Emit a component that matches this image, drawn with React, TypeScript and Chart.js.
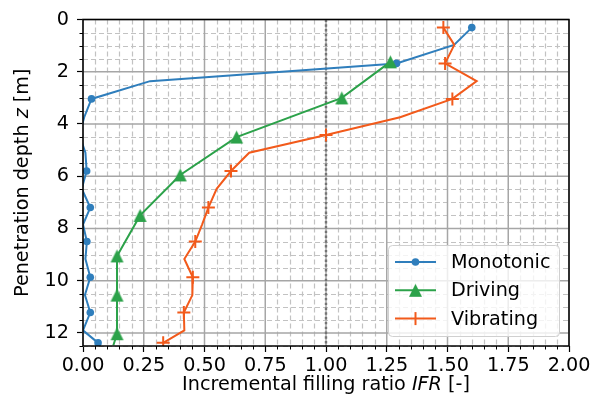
import React, { useEffect, useRef } from 'react';
import { Chart, registerables } from 'chart.js';

Chart.register(...registerables);

// ---- data ----
const depthMV = [0.31, 0.97, 1.68, 2.36, 3.04, 3.74, 4.42, 5.1, 5.8, 6.48, 7.2, 7.85, 8.5, 9.17, 9.87, 10.55, 11.22, 11.9, 12.38];
const monotonicIFR = [1.6, 1.527, 1.29, 0.276, 0.035, 0.005, -0.015, 0.01, 0.015, -0.005, 0.03, 0.0, 0.016, 0.01, 0.03, 0.008, 0.03, 0.0, 0.062];
const vibratingIFR = [1.483, 1.528, 1.49, 1.62, 1.52, 1.305, 1.0, 0.684, 0.609, 0.55, 0.516, 0.49, 0.462, 0.417, 0.452, 0.45, 0.415, 0.417, 0.33];
const drivingDepth = [1.62, 3.0, 4.5, 5.95, 7.5, 9.05, 10.55, 12.03, 12.47];
const drivingIFR = [1.265, 1.065, 0.632, 0.4, 0.235, 0.14, 0.14, 0.14, 0.125];
const refLineIFR = [1.0, 1.0];
const refLineDepth = [0, 12.5];

const seriesNames = ['Monotonic', 'Driving', 'Vibrating'];
const xRange = [0, 2];
const yRange = [0, 12.5];
const xMajorStep = 0.25;
const xMinorStep = 0.05;
const yMajorStep = 2;
const yMinorStep = 0.5;

const BLUE = '#2f7ebc';
const GREEN = '#2ca24a';
const ORANGE = '#f25a1b';
const FONT = '"DejaVu Sans", sans-serif';
const FS = 19.2;

function makeTriangle(color: string): HTMLCanvasElement {
  const c = document.createElement('canvas');
  c.width = 15;
  c.height = 15;
  const g = c.getContext('2d')!;
  g.fillStyle = color;
  g.beginPath();
  g.moveTo(7.5, 1);
  g.lineTo(1, 14);
  g.lineTo(14, 14);
  g.closePath();
  g.fill();
  return c;
}

const decorPlugin = {
  id: 'decor',
  beforeDatasetsDraw(chart: any) {
    const { ctx, chartArea: a, scales } = chart;
    const x = scales.x;
    const y = scales.y;
    ctx.save();
    // minor grid
    ctx.setLineDash([5, 3]);
    ctx.strokeStyle = '#c2c2c2';
    ctx.lineWidth = 1.2;
    const nx = Math.round((xRange[1] - xRange[0]) / xMinorStep);
    const kx = Math.round(xMajorStep / xMinorStep);
    for (let i = 0; i <= nx; i++) {
      if (i % kx === 0) continue;
      const px = Math.round(x.getPixelForValue(xRange[0] + i * xMinorStep)) + 0.5;
      ctx.beginPath();
      ctx.moveTo(px, a.top);
      ctx.lineTo(px, a.bottom);
      ctx.stroke();
    }
    const ny = Math.round((yRange[1] - yRange[0]) / yMinorStep);
    const ky = Math.round(yMajorStep / yMinorStep);
    for (let i = 0; i <= ny; i++) {
      if (i % ky === 0) continue;
      const py = Math.round(y.getPixelForValue(yRange[0] + i * yMinorStep)) + 0.5;
      ctx.beginPath();
      ctx.moveTo(a.left, py);
      ctx.lineTo(a.right, py);
      ctx.stroke();
    }
    // major grid
    ctx.setLineDash([]);
    ctx.strokeStyle = '#a6a6a6';
    ctx.lineWidth = 1.5;
    for (let i = 0; i <= nx; i += kx) {
      const px = x.getPixelForValue(xRange[0] + i * xMinorStep);
      ctx.beginPath();
      ctx.moveTo(px, a.top);
      ctx.lineTo(px, a.bottom);
      ctx.stroke();
    }
    for (let i = 0; i <= ny; i += ky) {
      const py = y.getPixelForValue(yRange[0] + i * yMinorStep);
      ctx.beginPath();
      ctx.moveTo(a.left, py);
      ctx.lineTo(a.right, py);
      ctx.stroke();
    }
    ctx.restore();
  },
  afterDatasetsDraw(chart: any) {
    const { ctx, chartArea: a, scales } = chart;
    const x = scales.x;
    const y = scales.y;
    ctx.save();
    // minor ticks
    ctx.strokeStyle = '#000';
    ctx.lineWidth = 1;
    const nx = Math.round((xRange[1] - xRange[0]) / xMinorStep);
    const kx = Math.round(xMajorStep / xMinorStep);
    for (let i = 0; i <= nx; i++) {
      if (i % kx === 0) continue;
      const px = Math.round(x.getPixelForValue(xRange[0] + i * xMinorStep)) + 0.5;
      ctx.beginPath();
      ctx.moveTo(px, a.bottom);
      ctx.lineTo(px, a.bottom + 3.5);
      ctx.stroke();
    }
    const ny = Math.round((yRange[1] - yRange[0]) / yMinorStep);
    const ky = Math.round(yMajorStep / yMinorStep);
    for (let i = 0; i <= ny; i++) {
      if (i % ky === 0) continue;
      const py = Math.round(y.getPixelForValue(yRange[0] + i * yMinorStep)) + 0.5;
      ctx.beginPath();
      ctx.moveTo(a.left - 3.5, py);
      ctx.lineTo(a.left, py);
      ctx.stroke();
    }
    // spines
    ctx.lineWidth = 1.5;
    ctx.strokeRect(a.left, a.top, a.right - a.left, a.bottom - a.top);
    ctx.restore();
  },
  afterDraw(chart: any) {
    const { ctx, chartArea: a } = chart;
    ctx.save();
    ctx.fillStyle = '#000';
    ctx.textBaseline = 'middle';
    // x title
    const xParts: [string, boolean][] = [['Incremental filling ratio ', false], ['IFR', true], [' [-]', false]];
    const widthOf = (parts: [string, boolean][]) =>
      parts.reduce((s, [t, it]) => {
        ctx.font = `${it ? 'italic ' : ''}${FS}px ${FONT}`;
        return s + ctx.measureText(t).width;
      }, 0);
    let w = widthOf(xParts);
    let cx = (a.left + a.right) / 2 - w / 2;
    ctx.textAlign = 'left';
    for (const [t, it] of xParts) {
      ctx.font = `${it ? 'italic ' : ''}${FS}px ${FONT}`;
      ctx.fillText(t, cx, 385);
      cx += ctx.measureText(t).width;
    }
    // y title
    const yParts: [string, boolean][] = [['Penetration depth ', false], ['z', true], [' [m]', false]];
    w = widthOf(yParts);
    ctx.save();
    ctx.translate(23, (a.top + a.bottom) / 2);
    ctx.rotate(-Math.PI / 2);
    let cy = -w / 2;
    for (const [t, it] of yParts) {
      ctx.font = `${it ? 'italic ' : ''}${FS}px ${FONT}`;
      ctx.fillText(t, cy, 0);
      cy += ctx.measureText(t).width;
    }
    ctx.restore();

    // legend
    const bw = 171;
    const bh = 91;
    const L = a.right - 10 - bw;
    const T = a.bottom - 10 - bh;
    ctx.beginPath();
    (ctx as any).roundRect(L + 0.5, T + 0.5, bw, bh, 4);
    ctx.fillStyle = 'rgba(255,255,255,0.8)';
    ctx.fill();
    ctx.strokeStyle = '#d0d0d0';
    ctx.lineWidth = 1;
    ctx.stroke();
    const colors = [BLUE, GREEN, ORANGE];
    for (let i = 0; i < seriesNames.length; i++) {
      const ry = T + 17 + i * 28.3;
      ctx.strokeStyle = colors[i];
      ctx.fillStyle = colors[i];
      ctx.lineWidth = 2;
      ctx.beginPath();
      ctx.moveTo(L + 7, ry);
      ctx.lineTo(L + 48, ry);
      ctx.stroke();
      const mx = L + 27.5;
      if (i === 0) {
        ctx.beginPath();
        ctx.arc(mx, ry, 3.8, 0, Math.PI * 2);
        ctx.fill();
      } else if (i === 1) {
        ctx.drawImage(triangleImg, mx - 7.5, ry - 7.5);
      } else {
        ctx.beginPath();
        ctx.moveTo(mx, ry - 6.5);
        ctx.lineTo(mx, ry + 6.5);
        ctx.stroke();
      }
      ctx.fillStyle = '#000';
      ctx.font = `${FS}px ${FONT}`;
      ctx.textAlign = 'left';
      ctx.fillText(seriesNames[i], L + 63, ry + 1);
    }
    ctx.restore();
  },
};

let triangleImg: HTMLCanvasElement;

export default function App() {
  const ref = useRef<HTMLCanvasElement>(null);
  useEffect(() => {
    document.body.style.margin = '0';
    triangleImg = makeTriangle(GREEN);
    const evenMarker = (r: number) => (c: any) => (c.dataIndex % 2 === 0 ? r : 0);
    const chart = new Chart(ref.current!, {
      type: 'scatter',
      data: {
        datasets: [
          {
            label: seriesNames[0],
            data: depthMV.map((z, i) => ({ x: monotonicIFR[i], y: z })),
            showLine: true,
            borderColor: BLUE,
            backgroundColor: BLUE,
            borderWidth: 2,
            pointRadius: evenMarker(3.8),
            pointBorderWidth: 0,
            pointStyle: 'circle',
            clip: 0,
            order: 3,
          },
          {
            label: seriesNames[1],
            data: drivingDepth.map((z, i) => ({ x: drivingIFR[i], y: z })),
            showLine: true,
            borderColor: GREEN,
            backgroundColor: GREEN,
            borderWidth: 2,
            pointRadius: (c: any) => (c.dataIndex < drivingDepth.length - 1 ? 7 : 0),
            pointStyle: triangleImg,
            clip: 0,
            order: 2,
          },
          {
            label: seriesNames[2],
            data: depthMV.map((z, i) => ({ x: vibratingIFR[i], y: z })),
            showLine: true,
            borderColor: ORANGE,
            backgroundColor: ORANGE,
            borderWidth: 2,
            pointRadius: evenMarker(6.5),
            pointBorderWidth: 2,
            pointStyle: 'cross',
            clip: 0,
            order: 1,
          },
          {
            label: 'ref',
            data: refLineDepth.map((z, i) => ({ x: refLineIFR[i], y: z })),
            showLine: true,
            borderColor: '#747474',
            borderWidth: 2.4,
            borderDash: [2.4, 2.4],
            pointRadius: 0,
            clip: 0,
            order: 4,
          },
        ],
      },
      options: {
        animation: false,
        responsive: false,
        maintainAspectRatio: false,
        layout: { padding: { left: 0, top: 18.6, right: 27, bottom: 0 } },
        plugins: { legend: { display: false }, tooltip: { enabled: false } },
        scales: {
          x: {
            type: 'linear',
            min: xRange[0],
            max: xRange[1],
            ticks: {
              stepSize: xMajorStep,
              includeBounds: false,
              autoSkip: false,
              maxRotation: 0,
              padding: 2,
              color: '#000',
              font: { family: FONT, size: FS },
              callback: (v: any) => Number(v).toFixed(2),
            },
            grid: { drawOnChartArea: false, drawTicks: true, tickLength: 6, tickColor: '#000', tickWidth: 1.2 },
            border: { display: false },
            afterFit: (s: any) => {
              s.height = 60;
            },
          },
          y: {
            type: 'linear',
            reverse: true,
            min: yRange[0],
            max: yRange[1],
            ticks: {
              stepSize: yMajorStep,
              includeBounds: false,
              autoSkip: false,
              padding: 8,
              color: '#000',
              font: { family: FONT, size: FS },
              callback: (v: any) => String(Math.round(Number(v))),
            },
            grid: { drawOnChartArea: false, drawTicks: true, tickLength: 6, tickColor: '#000', tickWidth: 1.2 },
            border: { display: false },
            afterFit: (s: any) => {
              s.width = 83;
            },
          },
        },
      },
      plugins: [decorPlugin],
    });
    return () => chart.destroy();
  }, []);
  return (
    <div style={{ width: 596, height: 406, position: 'relative' }}>
      <canvas ref={ref} width={596} height={406} style={{ display: 'block', width: 596, height: 406 }} />
    </div>
  );
}
